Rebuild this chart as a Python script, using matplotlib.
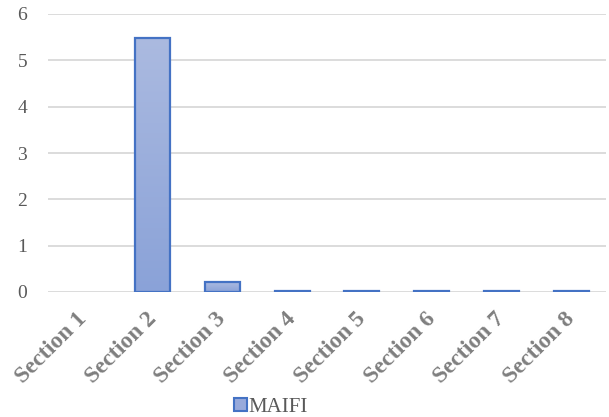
import matplotlib
matplotlib.use("Agg")
import matplotlib.pyplot as plt
import matplotlib.transforms as mtransforms
import numpy as np

categories = ["Section 1", "Section 2", "Section 3", "Section 4",
              "Section 5", "Section 6", "Section 7", "Section 8"]
maifi = [0.0, 5.48, 0.21, 0.02, 0.02, 0.02, 0.02, 0.02]

plt.rcParams['font.family'] = ['Liberation Serif', 'DejaVu Serif']
grey = "#595959"
edge = "#4472C4"

fig = plt.figure(figsize=(6.09, 4.17), dpi=100)
ax = fig.add_axes([48 / 609, 125 / 417, 558 / 609, 278 / 417])

x = np.arange(len(categories))
bars = ax.bar(x, maifi, width=0.5, color="none", edgecolor="none",
              label="MAIFI", zorder=3)

# gradient fill inside each bar, like the excel original
grad = np.linspace(0, 1, 256).reshape(-1, 1)
cmap = matplotlib.colors.LinearSegmentedColormap.from_list("g", ["#8AA2D8", "#ABBAE0"])
for b in bars:
    h = b.get_height()
    if h <= 0:
        continue
    x0 = b.get_x()
    w = b.get_width()
    im = ax.imshow(grad, extent=[x0, x0 + w, 0, h], origin="lower", cmap=cmap,
                   aspect="auto", zorder=3.5)
    im.set_clip_path(b)
    ax.bar(x0 + w / 2, h, width=w, facecolor="none", edgecolor=edge,
           linewidth=1.6, zorder=4)

ax.set_xlim(-0.5, len(categories) - 0.5)
ax.set_ylim(0, 6)
ax.set_yticks(range(0, 7))
ax.grid(axis="y", color="#D9D9D9", linewidth=1.3, zorder=0)
for s in ax.spines.values():
    s.set_visible(False)
ax.tick_params(length=0)
ax.tick_params(axis="y", labelsize=14, labelcolor=grey, pad=15)
ax.set_xticks(x)
ax.set_xticklabels(categories, rotation=45, ha="right", va="top", rotation_mode="anchor",
                   fontsize=17, fontweight="bold", color="#7F7F7F")
ax.tick_params(axis="x", pad=12)

# nudge rotated labels a little to the left
shift = mtransforms.ScaledTranslation(-0.07, 0, fig.dpi_scale_trans)
for lab in ax.get_xticklabels():
    lab.set_transform(lab.get_transform() + shift)

handle = matplotlib.patches.Patch(facecolor="#98AADB", edgecolor=edge, linewidth=1.5)
fig.legend([handle], ["MAIFI"], loc="lower center", bbox_to_anchor=(0.445, -0.045),
           frameon=False, fontsize=15, handlelength=0.6, handleheight=0.6,
           handletextpad=0.1, labelcolor=grey)

fig.savefig("out.png", dpi=100)
